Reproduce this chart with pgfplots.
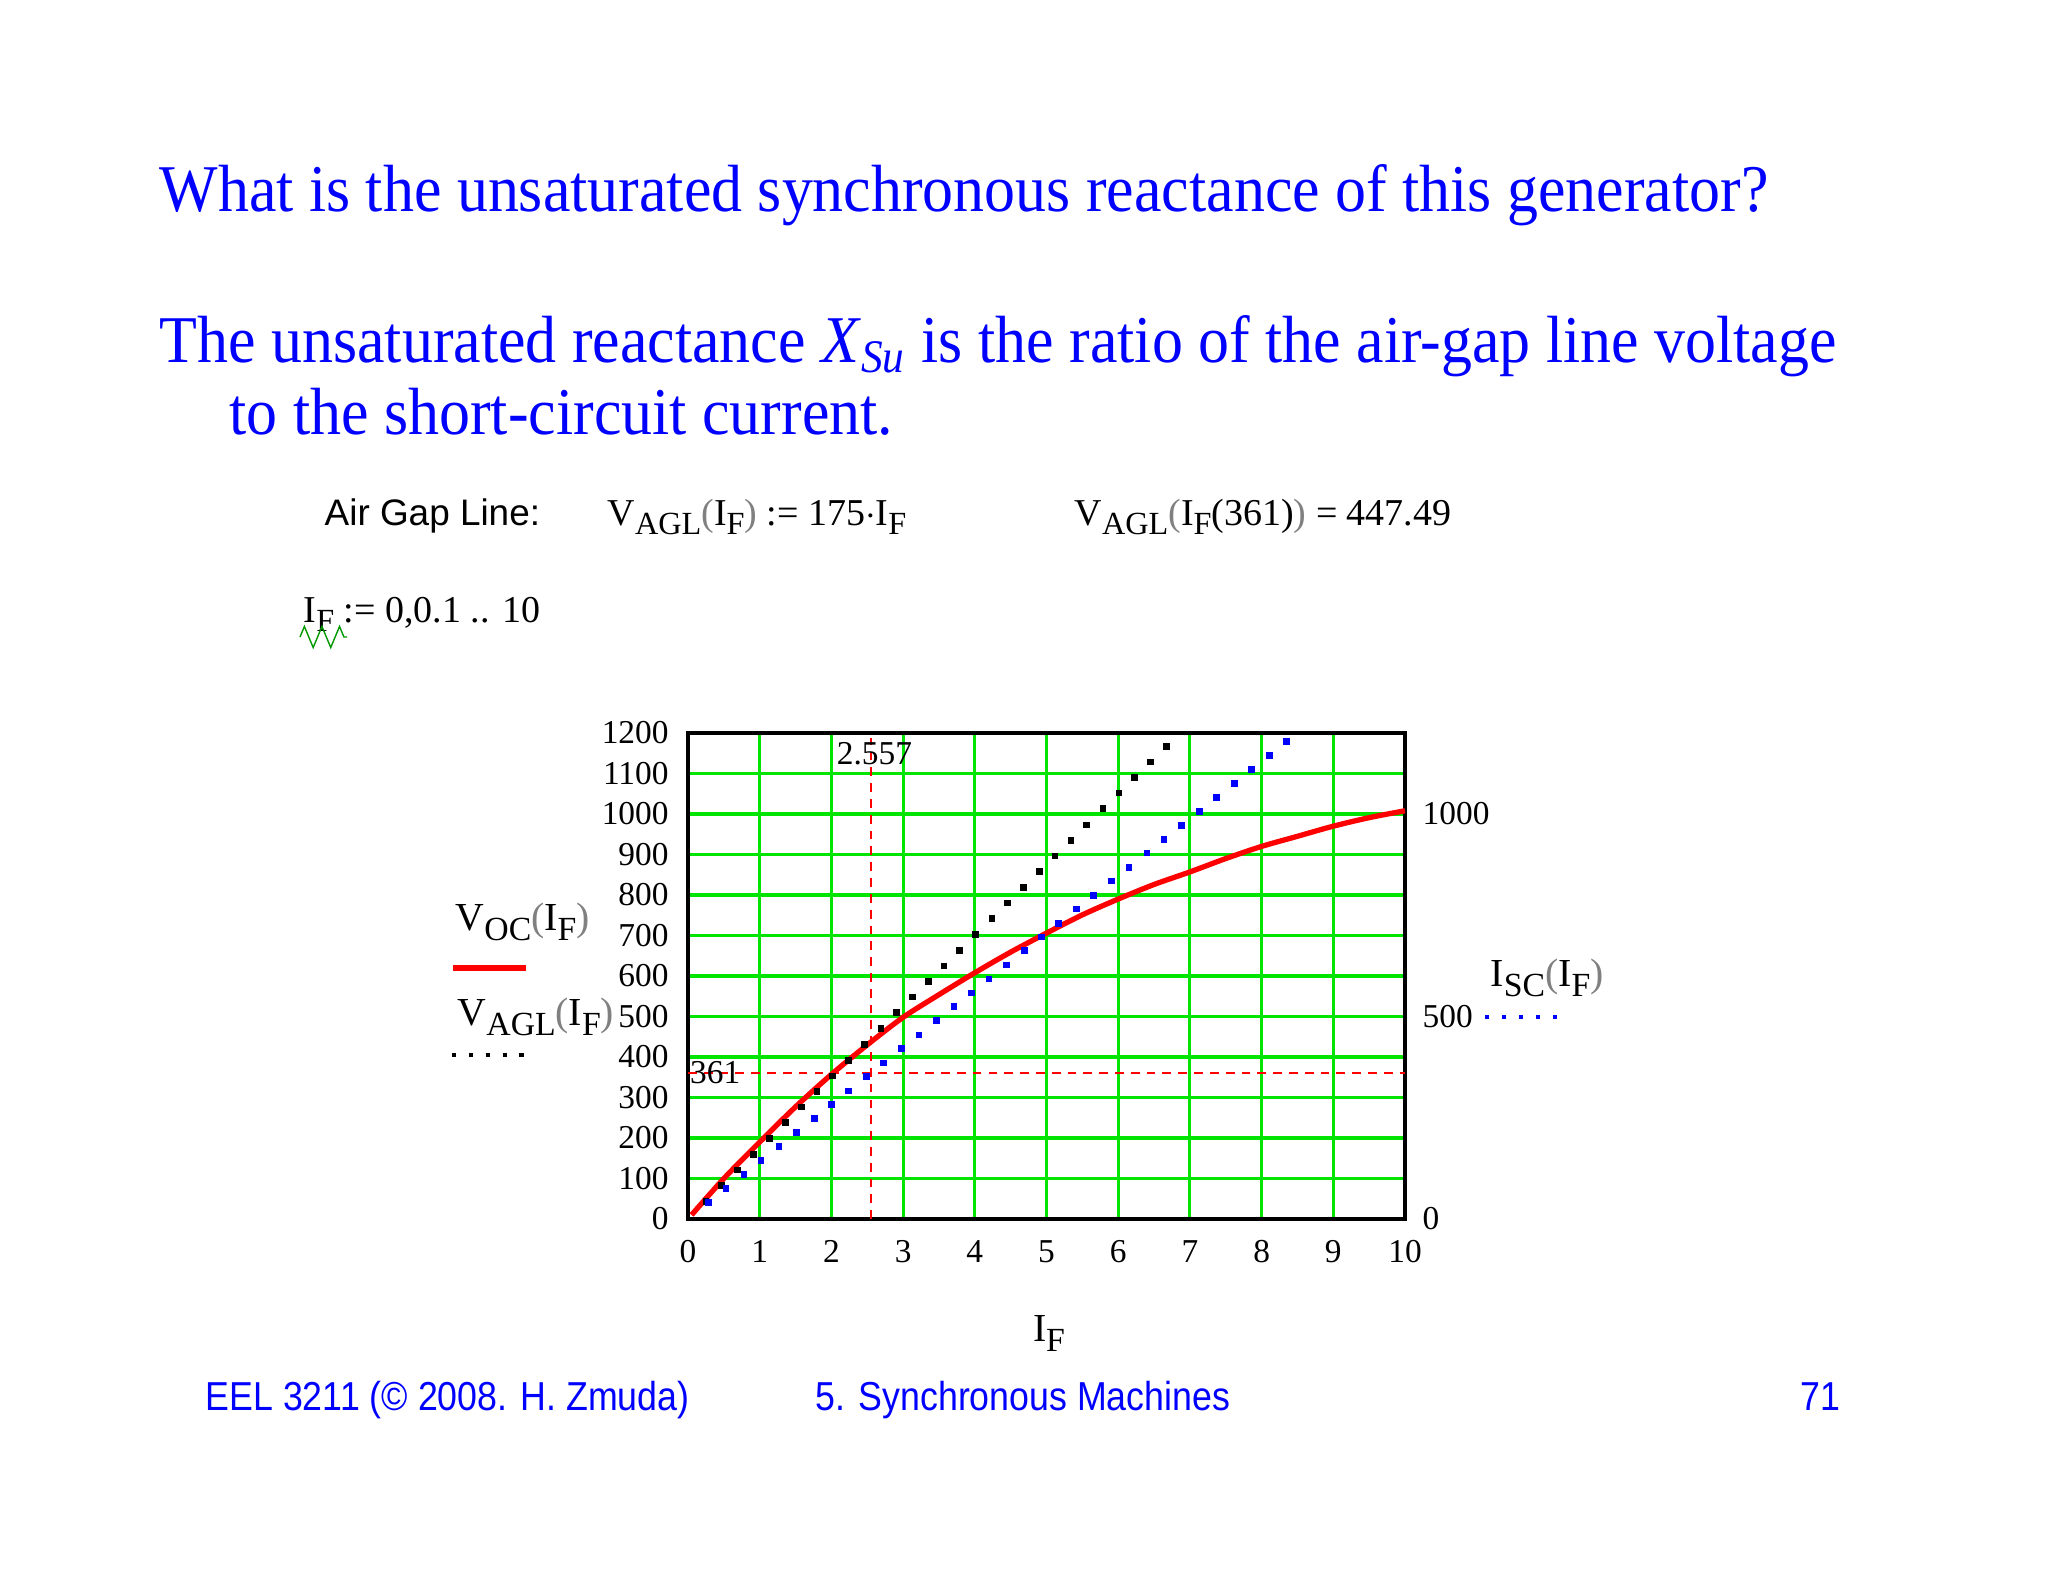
\documentclass[border=0pt]{standalone}
\usepackage{fontspec}
\setmainfont{Liberation Serif}
\newfontfamily\arial{Liberation Sans}
\newfontfamily\slidefont[FakeStretch=0.927]{Liberation Serif}
\newfontfamily\footfont[FakeStretch=0.884]{Liberation Sans}
\usepackage{pgfplots}
\pgfplotsset{compat=1.18}
\usetikzlibrary{decorations.pathmorphing}

\definecolor{mcgreen}{RGB}{0,228,0}
\definecolor{slideblue}{RGB}{0,0,255}
\newcommand\lo[1]{\raisebox{-0.55ex}{\scalebox{0.85}{#1}}}
\newcommand\gp[1]{{\color{gray}#1}}

\begin{document}
\begin{tikzpicture}[x=0.1mm,y=0.1mm]
\path[use as bounding box, fill=white] (0,0) rectangle (2048,1582);

% slide text
\begin{scope}[every node/.style={anchor=base west, inner sep=0pt, text=slideblue, font=\slidefont\fontsize{19}{23}\selectfont}]
\node at (159,1370) {What is the unsaturated synchronous reactance of this generator?};
\node at (159,1220) {The unsaturated reactance \textit{X}\textsubscript{\textit{Su}} is the ratio of the air-gap line voltage};
\node at (229,1147) {to the short-circuit current.};
\end{scope}

% mathcad worksheet lines
\begin{scope}[every node/.style={anchor=base west, inner sep=0pt}]
\node[font=\arial\fontsize{10.5}{12}\selectfont] at (324,1057) {Air Gap Line:};
\node[font=\fontsize{10.8}{13}\selectfont] at (607,1057) {V\lo{AGL}\gp{(}I\lo{F}\gp{)} := 175$\cdot$I\lo{F}};
\node[font=\fontsize{10.8}{13}\selectfont] at (1074,1057) {V\lo{AGL}\gp{(}I\lo{F}(361)\gp{)} = 447.49};
\node[font=\fontsize{10.8}{13}\selectfont] at (303,960) {I\lo{F} := 0,0.1 .. 10};
\end{scope}
\draw[green!60!black, line width=0.4pt, decorate, decoration={zigzag, segment length=5, amplitude=3}] (300,945) -- (347,945);

% legends beside the plot
\begin{scope}[every node/.style={anchor=base west, inner sep=0pt, font=\fontsize{11.3}{14}\selectfont}]
\node at (455,652) {V\lo{OC}\gp{(}I\lo{F}\gp{)}};
\node at (457,557) {V\lo{AGL}\gp{(}I\lo{F}\gp{)}};
\node at (1490,596) {I\lo{SC}\gp{(}I\lo{F}\gp{)}};
\node[anchor=base] at (1049,241) {I\lo{F}};
\end{scope}
\draw[red, line width=1.5pt] (453,614) -- (526,614);
\draw[black, line width=1.2pt, dash pattern=on 1.2pt off 3.6pt] (452,527) -- (527,527);
\draw[blue, line width=1.2pt, dash pattern=on 1.2pt off 3.6pt] (1485,565) -- (1560,565);

% footer
\begin{scope}[every node/.style={anchor=base west, inner sep=0pt, text=slideblue, font=\footfont\fontsize{11.5}{13}\selectfont}]
\node at (205,172) {EEL 3211 (© 2008. H. Zmuda)};
\node at (815,172) {5. Synchronous Machines};
\node[anchor=base east] at (1841,172) {71};
\end{scope}

\begin{axis}[
    at={(68.8mm,36.3mm)}, anchor=south west,
    scale only axis, width=71.7mm, height=48.6mm,
    xmin=0, xmax=10, ymin=0, ymax=1200,
    xtick={0,1,...,10},
    ytick={0,100,...,1200},
    grid=major,
    major grid style={mcgreen, line width=0.9pt},
    axis line style={black, line width=0.9pt},
    major tick length=0pt,
    tick label style={font=\fontsize{9.5}{10}\selectfont},
    yticklabel style={xshift=-2pt},
    xticklabel style={yshift=-2.5pt},
    /pgf/number format/assume math mode=true,
    /pgf/number format/1000 sep={},
    clip=false,
]
% open-circuit characteristic
\addplot[red, line width=1.5pt, smooth] coordinates {
    (0.05,10)(0.5,100)(1,190)(1.5,277)(2,357)(2.5,430)(3,498)(3.5,554)
    (4,608)(4.5,659)(5,706)(5.5,751)(6,790)(6.5,826)(7,857)(7.5,890)
    (8,920)(8.5,945)(9,970)(9.5,991)(10,1008)};
% air gap line
\addplot[only marks, mark=square*, mark size=0.75pt, black] coordinates {
    (0.25,43.8)(0.47,82.3)(0.69,120.8)(0.91,159.3)(1.14,199.5)(1.36,238.0)
    (1.58,276.5)(1.80,315.0)(2.02,353.5)(2.24,392.0)(2.46,430.5)(2.69,470.8)
    (2.91,509.3)(3.13,547.8)(3.35,586.3)(3.57,624.8)(3.79,663.3)(4.01,701.8)
    (4.24,742.0)(4.46,780.5)(4.68,819.0)(4.90,857.5)(5.12,896.0)(5.34,934.5)
    (5.56,973.0)(5.79,1013.3)(6.01,1051.8)(6.23,1090.3)(6.45,1128.8)(6.67,1167.3)};
% short-circuit characteristic
\addplot[only marks, mark=square*, mark size=0.75pt, blue] coordinates {
    (0.29,40.9)(0.53,74.8)(0.78,110.1)(1.02,144.0)(1.27,179.3)(1.51,213.2)
    (1.76,248.5)(2.00,282.4)(2.24,316.3)(2.49,351.6)(2.73,385.5)(2.98,420.8)
    (3.22,454.7)(3.47,490.0)(3.71,523.9)(3.95,557.7)(4.20,593.0)(4.44,626.9)
    (4.69,662.2)(4.93,696.1)(5.17,730.0)(5.42,765.3)(5.66,799.2)(5.91,834.5)
    (6.15,868.4)(6.40,903.7)(6.64,937.6)(6.88,971.5)(7.13,1006.8)(7.37,1040.6)
    (7.62,1075.9)(7.86,1109.8)(8.11,1145.1)(8.35,1179.0)};
% markers
\addplot[red, line width=0.6pt, dash pattern=on 2.5pt off 2pt] coordinates {(2.557,0)(2.557,1188)};
\addplot[red, line width=0.6pt, dash pattern=on 2.5pt off 2pt] coordinates {(0,361)(10,361)};
\node[font=\fontsize{9.5}{10}\selectfont, inner sep=0pt] at (axis cs:2.6,1148) {2.557};
\node[font=\fontsize{9.5}{10}\selectfont, inner sep=0pt] at (axis cs:0.38,361) {361};
\end{axis}

\begin{axis}[
    at={(68.8mm,36.3mm)}, anchor=south west,
    scale only axis, width=71.7mm, height=48.6mm,
    xmin=0, xmax=10, ymin=0, ymax=1200,
    axis x line=none,
    axis y line*=right,
    y axis line style={draw=none},
    ytick={0,500,1000},
    major tick length=0pt,
    tick label style={font=\fontsize{9.5}{10}\selectfont},
    yticklabel style={xshift=1.5pt},
    /pgf/number format/assume math mode=true,
    /pgf/number format/1000 sep={},
]
\addplot[draw=none] coordinates {(0,0)(10,1200)};
\end{axis}
\end{tikzpicture}
\end{document}
